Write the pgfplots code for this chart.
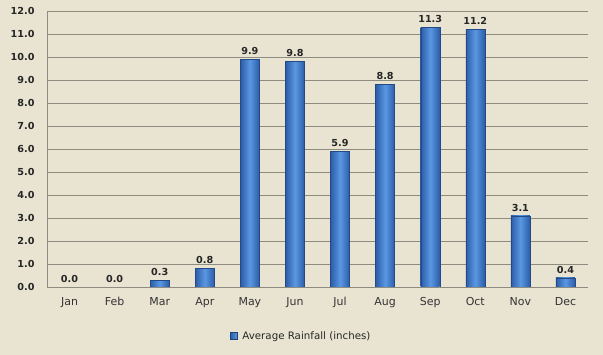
\documentclass[border=0pt]{standalone}
\usepackage{pgfplots}
\pgfplotsset{compat=1.18}
\usepackage{fontspec}
\setmainfont{DejaVu Sans}
\usetikzlibrary{backgrounds,calc}
\definecolor{bg}{HTML}{E8E4D1}
\definecolor{gridc}{HTML}{8E8C80}
\definecolor{bardark}{HTML}{2C5DA8}
\definecolor{barmid}{HTML}{5A97E2}
\pgfplotsset{rainbar/.style={draw=bardark!80!black, line width=0.3pt, left color=bardark, right color=bardark, middle color=barmid, bar shift=0pt}}
\begin{document}
\begin{tikzpicture}
\begin{axis}[
  name=ax,
  scale only axis,
  width=541bp, height=276bp,
  xmin=-0.5, xmax=11.5,
  ymin=0, ymax=12,
  ytick={0,1,...,12},
  xtick={0,...,11},
  xticklabels={Jan,Feb,Mar,Apr,May,Jun,Jul,Aug,Sep,Oct,Nov,Dec},
  ybar, bar width=19bp,
  axis x line*=bottom, axis y line*=left,
  axis line style={gridc, line width=0.8pt, -},
  ymajorgrids, grid style={gridc, line width=0.8pt},
  major tick length=0pt,
  tick style={draw=none},
  /pgf/number format/assume math mode=true,
  y tick label style={font=\fontsize{9.7}{11}\selectfont\bfseries, text=black!85, xshift=-9bp, /pgf/number format/fixed, /pgf/number format/fixed zerofill, /pgf/number format/precision=1},
  x tick label style={font=\fontsize{11}{13}\selectfont, text=black!80, yshift=-7bp},
  nodes near coords,
  nodes near coords style={font=\fontsize{9.7}{11}\selectfont\bfseries, text=black!85, yshift=1bp, /pgf/number format/fixed, /pgf/number format/fixed zerofill, /pgf/number format/precision=1, /pgf/number format/assume math mode=true},
  legend style={at={(0.47,-0.178)}, anchor=center, draw=none, fill=none, font=\fontsize{10.3}{12}\selectfont, text=black!85, legend columns=1, /tikz/every even column/.append style={column sep=0pt}},
  legend image code/.code={\fill[left color=bardark, right color=barmid, draw=bardark!70!black, line width=0.3pt] (0bp,-3.5bp) rectangle (7bp,3.5bp);},
  legend cell align=left,
]
\addplot[rainbar] coordinates {(0,0.0)};
\addlegendentry{\hspace{3bp}Average Rainfall (inches)}
\addplot[rainbar, forget plot] coordinates {(1,0.0)};
\addplot[rainbar, forget plot] coordinates {(2,0.3)};
\addplot[rainbar, forget plot] coordinates {(3,0.8)};
\addplot[rainbar, forget plot] coordinates {(4,9.9)};
\addplot[rainbar, forget plot] coordinates {(5,9.8)};
\addplot[rainbar, forget plot] coordinates {(6,5.9)};
\addplot[rainbar, forget plot] coordinates {(7,8.8)};
\addplot[rainbar, forget plot] coordinates {(8,11.3)};
\addplot[rainbar, forget plot] coordinates {(9,11.2)};
\addplot[rainbar, forget plot] coordinates {(10,3.1)};
\addplot[rainbar, forget plot] coordinates {(11,0.4)};
\end{axis}
\begin{scope}[on background layer]
\fill[bg] ($(ax.south west)+(-47bp,-68bp)$) rectangle ($(ax.north east)+(15bp,11bp)$);
\end{scope}
\path[use as bounding box] ($(ax.south west)+(-47bp,-68bp)$) rectangle ($(ax.north east)+(15bp,11bp)$);
\end{tikzpicture}
\end{document}
